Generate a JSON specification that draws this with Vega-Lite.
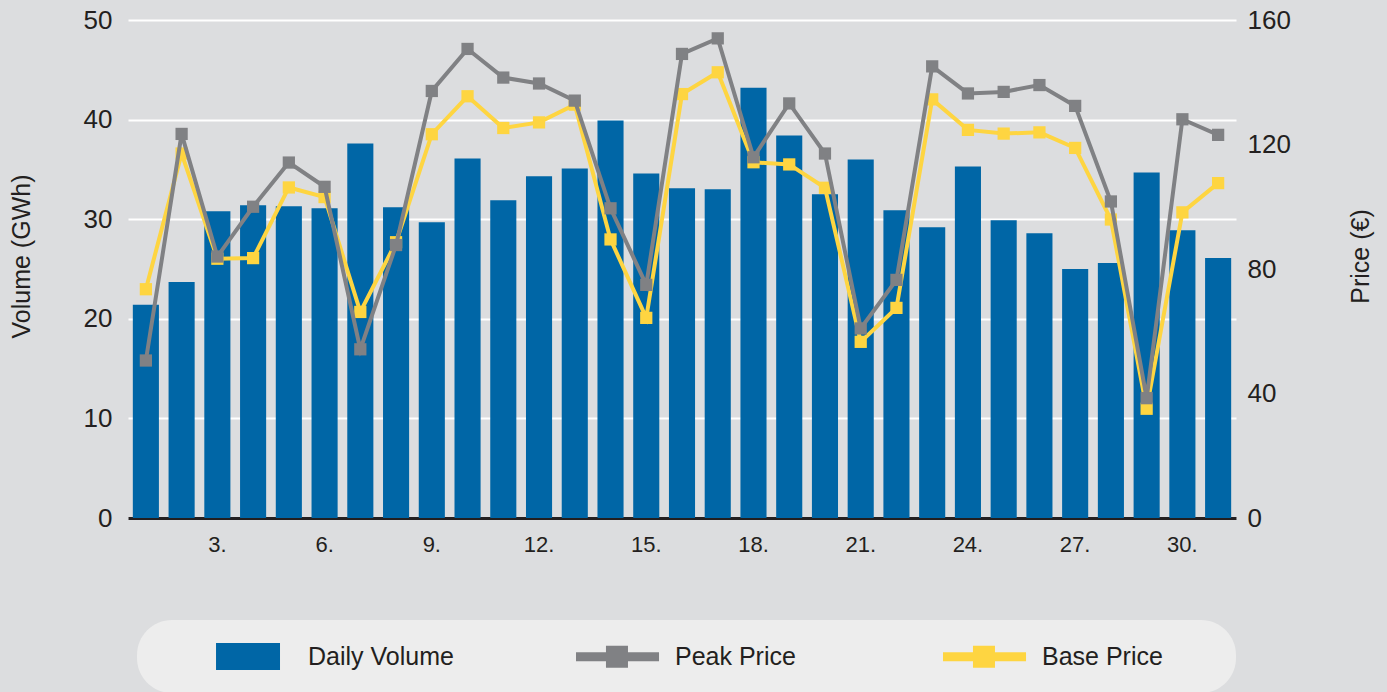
{
  "$schema": "https://vega.github.io/schema/vega-lite/v6.json",
  "autosize": {"type": "none"},
  "width": 1108,
  "height": 498,
  "padding": {"left": 128, "top": 20, "right": 151, "bottom": 174},
  "background": "#dcdddf",
  "config": {
    "view": {"stroke": null},
    "font": "Liberation Sans",
    "axis": {"labelFont": "Liberation Sans", "titleFont": "Liberation Sans", "labelColor": "#231f20", "titleColor": "#231f20", "titleFontWeight": "normal"},
    "legend": {"labelFont": "Liberation Sans", "titleFont": "Liberation Sans"}
  },
  "data": {
    "values": [
      {"day": 1, "volume": 21.4, "peak": 50.6, "base": 73.5},
      {"day": 2, "volume": 23.7, "peak": 123.4, "base": 117.1},
      {"day": 3, "volume": 30.8, "peak": 84.0, "base": 83.3},
      {"day": 4, "volume": 31.4, "peak": 100.0, "base": 83.5},
      {"day": 5, "volume": 31.3, "peak": 114.2, "base": 106.2},
      {"day": 6, "volume": 31.1, "peak": 106.4, "base": 103.1},
      {"day": 7, "volume": 37.6, "peak": 54.2, "base": 66.2},
      {"day": 8, "volume": 31.2, "peak": 87.7, "base": 88.6},
      {"day": 9, "volume": 29.7, "peak": 137.2, "base": 123.3},
      {"day": 10, "volume": 36.1, "peak": 150.7, "base": 135.5},
      {"day": 11, "volume": 31.9, "peak": 141.5, "base": 125.3},
      {"day": 12, "volume": 34.3, "peak": 139.6, "base": 127.1},
      {"day": 13, "volume": 35.1, "peak": 134.1, "base": 132.8},
      {"day": 14, "volume": 39.9, "peak": 99.5, "base": 89.5},
      {"day": 15, "volume": 34.6, "peak": 74.9, "base": 64.3},
      {"day": 16, "volume": 33.1, "peak": 149.1, "base": 136.2},
      {"day": 17, "volume": 33.0, "peak": 154.1, "base": 143.2},
      {"day": 18, "volume": 43.2, "peak": 115.9, "base": 114.3},
      {"day": 19, "volume": 38.4, "peak": 133.2, "base": 113.6},
      {"day": 20, "volume": 32.5, "peak": 117.1, "base": 106.1},
      {"day": 21, "volume": 36.0, "peak": 60.9, "base": 56.6},
      {"day": 22, "volume": 30.9, "peak": 76.5, "base": 67.5},
      {"day": 23, "volume": 29.2, "peak": 145.1, "base": 134.5},
      {"day": 24, "volume": 35.3, "peak": 136.4, "base": 124.7},
      {"day": 25, "volume": 29.9, "peak": 136.9, "base": 123.5},
      {"day": 26, "volume": 28.6, "peak": 139.1, "base": 123.9},
      {"day": 27, "volume": 25.0, "peak": 132.4, "base": 118.9},
      {"day": 28, "volume": 25.6, "peak": 101.7, "base": 95.9},
      {"day": 29, "volume": 34.7, "peak": 38.5, "base": 35.1},
      {"day": 30, "volume": 28.9, "peak": 128.1, "base": 98.2},
      {"day": 31, "volume": 26.1, "peak": 123.1, "base": 107.6}
    ]
  },
  "encoding": {
    "x": {
      "field": "day",
      "type": "ordinal",
      "scale": {"paddingInner": 0.27, "paddingOuter": 0.135},
      "axis": {
        "title": null,
        "labelAngle": 0,
        "values": [3, 6, 9, 12, 15, 18, 21, 24, 27, 30],
        "labelExpr": "datum.value + '.'",
        "ticks": false,
        "tickSize": 0,
        "labelPadding": 16,
        "labelFontSize": 22,
        "labelBaseline": "top",
        "domainColor": "#231f20",
        "domainWidth": 3,
        "grid": false
      }
    }
  },
  "layer": [
    {
      "mark": {"type": "bar", "opacity": 1},
      "encoding": {
        "y": {
          "field": "volume",
          "type": "quantitative",
          "scale": {"domain": [0, 50], "nice": false},
          "axis": {
            "title": "Volume (GWh)",
            "titleFontSize": 25,
            "titleAngle": 270,
            "titleAlign": "center",
            "titleBaseline": "middle",
            "titleX": -107,
            "titleY": 236,
            "values": [0, 10, 20, 30, 40, 50],
            "labelFontSize": 26,
            "labelPadding": 16,
            "ticks": false,
            "tickSize": 0,
            "domain": false,
            "grid": true,
            "gridColor": "#ffffff",
            "gridWidth": 2,
            "gridOpacity": 1
          }
        },
        "color": {
          "datum": "Daily Volume",
          "type": "nominal",
          "scale": {
            "domain": ["Daily Volume", "Peak Price", "Base Price"],
            "range": ["#0066a6", "#808184", "#fed541"]
          },
          "legend": {
            "title": " ",
            "titleOrient": "left",
            "titleFontSize": 10,
            "titlePadding": 49,
            "orient": "none",
            "direction": "horizontal",
            "legendX": 9,
            "legendY": 600,
            "padding": 23,
            "fillColor": "#ededed",
            "cornerRadius": 35,
            "strokeColor": null,
            "gridAlign": "all",
            "columnPadding": 97,
            "symbolSize": 729,
            "symbolStrokeWidth": 0,
            "symbolOpacity": 1,
            "labelOffset": 72,
            "labelFontSize": 25,
            "labelColor": "#231f20"
          }
        }
      }
    },
    {
      "transform": [{"filter": "false"}],
      "mark": {"type": "point", "filled": true, "opacity": 1, "strokeWidth": 0},
      "encoding": {
        "color": {"datum": "Daily Volume", "type": "nominal"},
        "shape": {
          "datum": "Daily Volume",
          "type": "nominal",
          "scale": {
            "domain": ["Daily Volume", "Peak Price", "Base Price"],
            "range": [
              "M-0.48,-1H4.26V1H-0.48Z M19,0",
              "M-1,-0.33H5.15V0.33H-1Z M1.22,-0.815H2.85V0.815H1.22Z M19,0",
              "M-1,-0.33H5.15V0.33H-1Z M1.22,-0.815H2.85V0.815H1.22Z M19,0"
            ]
          }
        }
      }
    },
    {
      "layer": [
        {
          "mark": {"type": "line", "strokeWidth": 4, "point": {"shape": "square", "size": 150, "filled": true, "opacity": 1}},
          "encoding": {
            "y": {"field": "base", "type": "quantitative"},
            "color": {"datum": "Base Price", "type": "nominal"}
          }
        },
        {
          "mark": {"type": "line", "strokeWidth": 4, "point": {"shape": "square", "size": 150, "filled": true, "opacity": 1}},
          "encoding": {
            "y": {"field": "peak", "type": "quantitative"},
            "color": {"datum": "Peak Price", "type": "nominal"}
          }
        }
      ],
      "encoding": {
        "y": {
          "type": "quantitative",
          "scale": {"domain": [0, 160], "nice": false},
          "axis": {
            "orient": "right",
            "title": "Price (€)",
            "titleFontSize": 25,
            "titleAngle": 270,
            "titleAlign": "center",
            "titleBaseline": "middle",
            "titleX": 124,
            "titleY": 236,
            "values": [0, 40, 80, 120, 160],
            "labelFontSize": 26,
            "labelPadding": 11,
            "ticks": false,
            "tickSize": 0,
            "domain": false,
            "grid": false
          }
        }
      }
    }
  ],
  "resolve": {"scale": {"y": "independent"}}
}
